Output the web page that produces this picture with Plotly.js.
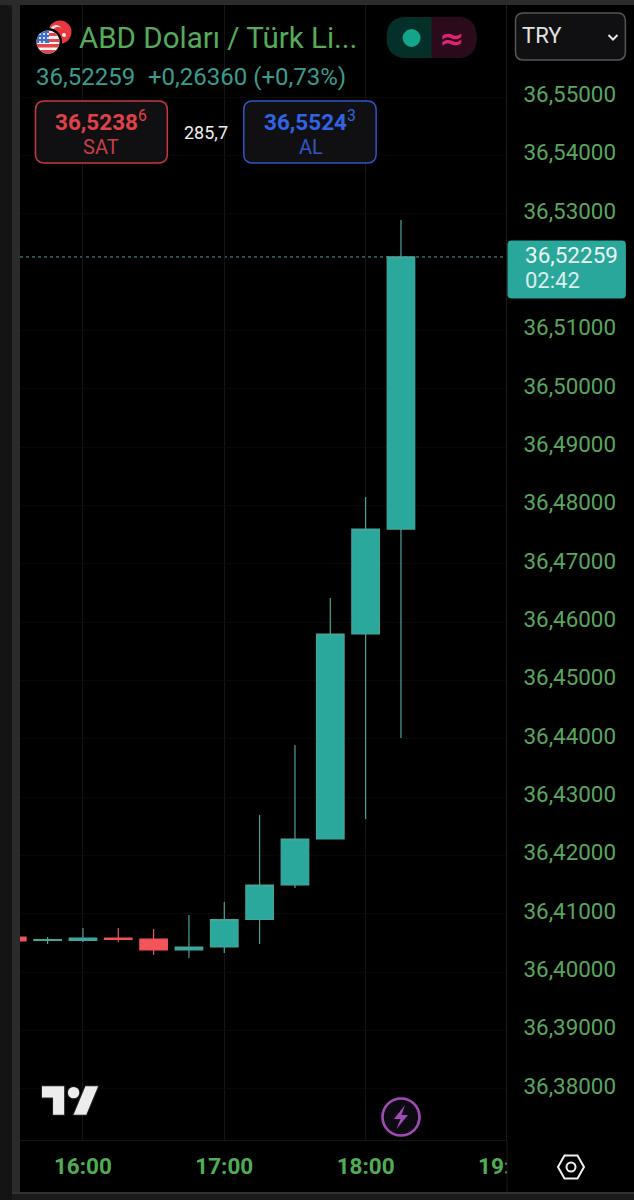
<!DOCTYPE html>
<html>
<head>
<meta charset="utf-8">
<script src="https://cdn.plot.ly/plotly-3.0.1.min.js"></script>
<style>
html,body{margin:0;padding:0;background:#1b1b1b;width:634px;height:1200px;overflow:hidden}
#topband{position:absolute;left:0;top:0;width:634px;height:5px;background:#2b2b2b}
#strip{position:absolute;left:12px;top:5px;width:8px;height:1187px;background:#2b2b2b}
#leftdark{position:absolute;left:0;top:5px;width:12px;height:1195px;background:#141414;border-top-right-radius:8px}
#panel{position:absolute;left:20px;top:5px;width:614px;height:1187px;background:#000;border-top-left-radius:10px}
#base{position:absolute;left:12px;top:1192px;width:622px;height:2px;background:#333}
#chart{position:absolute;left:0;top:0;width:634px;height:1200px}
#icons{position:absolute;left:0;top:0;pointer-events:none}
</style>
</head>
<body>
<div id="topband"></div><div id="strip"></div><div id="leftdark"></div><div id="panel"></div><div id="base"></div>
<div id="chart"></div>
<svg id="icons" width="634" height="1200" xmlns="http://www.w3.org/2000/svg">
  <defs>
    <clipPath id="us"><circle cx="48" cy="42" r="11.5"/></clipPath>
  </defs>
  <rect x="507" y="1141" width="12" height="50" fill="#000"/>
  <rect x="506.5" y="1141" width="1" height="51" fill="#1c1c1c"/>
  <circle cx="60" cy="32" r="11.5" fill="#e5393f"/>
  <circle cx="56" cy="31" r="6" fill="#fbe9e7"/>
  <circle cx="58" cy="32" r="5.2" fill="#e5393f"/>
  <circle cx="64" cy="35" r="2" fill="#fbe9e7"/>
  <circle cx="48" cy="42" r="14" fill="#000"/>
  <g clip-path="url(#us)">
    <rect x="36" y="30" width="24" height="24" fill="#f4f4f4"/>
    <rect x="36" y="44" width="24" height="3.5" fill="#e5454a"/>
    <rect x="36" y="50" width="24" height="5" fill="#e5454a"/>
    <rect x="48" y="33" width="12" height="3" fill="#e5454a"/>
    <rect x="48" y="39" width="12" height="3" fill="#e5454a"/>
    <rect x="36" y="30" width="13" height="13" fill="#3f6fc4"/>
    <g fill="#fff">
      <circle cx="40" cy="34" r="1"/><circle cx="44" cy="34" r="1"/><circle cx="48" cy="34" r="1"/>
      <circle cx="40" cy="38" r="1"/><circle cx="44" cy="38" r="1"/><circle cx="48" cy="38" r="1"/>
      <circle cx="40" cy="42" r="1"/><circle cx="44" cy="42" r="1"/>
    </g>
  </g>
  <path d="M608.5 35 L613 39.5 L617.5 35" fill="none" stroke="#e6e6e6" stroke-width="2"/>
  <g transform="translate(42,1080) scale(1.58)">
    <path d="M14 22H7V11H0V4h14v18zM28 22h-8l7.5-18h8L28 22z" fill="#ececec" stroke="#222" stroke-width="1.4" paint-order="stroke"/>
    <circle cx="20" cy="8" r="3.6" fill="#ececec" stroke="#222" stroke-width="1" paint-order="stroke"/>
  </g>
  <circle cx="401" cy="1117" r="18.5" fill="#0c0a10" stroke="#a24bb8" stroke-width="2.6"/>
  <path d="M405 1105 L394 1119 L400.5 1119 L396.5 1129 L408 1115 L401.5 1115 Z" fill="#a24bb8"/>
  <path d="M558 1167 L564.5 1155.5 L577.5 1155.5 L584 1167 L577.5 1178.5 L564.5 1178.5 Z" fill="none" stroke="#efefef" stroke-width="2"/>
  <circle cx="571" cy="1167" r="4.5" fill="none" stroke="#efefef" stroke-width="2"/>
</svg>
<script>
// ---- data ----
const times = ["2024-12-20 15:30","2024-12-20 15:45","2024-12-20 16:00","2024-12-20 16:15","2024-12-20 16:30","2024-12-20 16:45","2024-12-20 17:00","2024-12-20 17:15","2024-12-20 17:30","2024-12-20 17:45","2024-12-20 18:00","2024-12-20 18:15"];
const opens  = [36.40604,36.40544,36.40544,36.40587,36.40570,36.40381,36.40433,36.40904,36.41495,36.42284,36.45797,36.47596];
const highs  = [36.40640,36.40604,36.40758,36.40758,36.40741,36.40981,36.41204,36.42695,36.43895,36.46414,36.48145,36.52892];
const lows   = [36.40520,36.40484,36.40518,36.40518,36.40296,36.40244,36.40330,36.40484,36.41444,36.42284,36.42626,36.44015];
const closes = [36.40536,36.40560,36.40587,36.40561,36.40381,36.40433,36.40904,36.41495,36.42284,36.45797,36.47596,36.52259];
const priceTicks = [36.38,36.39,36.40,36.41,36.42,36.43,36.44,36.45,36.46,36.47,36.48,36.49,36.50,36.51,36.53,36.54,36.55];
const lastPrice = 36.52259;

const W=634,H=1200,L=20,R=127.5,T=5,B=60;
const px=x=>(x-L)/(W-L-R), py=y=>1-(y-T)/(H-T-B);
function rr(x0,y0,x1,y1,r){ // rounded rect in paper coordinates
  const X=px,Y=py;
  return `M ${X(x0+r)} ${Y(y0)} L ${X(x1-r)} ${Y(y0)} Q ${X(x1)} ${Y(y0)} ${X(x1)} ${Y(y0+r)} L ${X(x1)} ${Y(y1-r)} Q ${X(x1)} ${Y(y1)} ${X(x1-r)} ${Y(y1)} L ${X(x0+r)} ${Y(y1)} Q ${X(x0)} ${Y(y1)} ${X(x0)} ${Y(y1-r)} L ${X(x0)} ${Y(y0+r)} Q ${X(x0)} ${Y(y0)} ${X(x0+r)} ${Y(y0)} Z`;
}
function box(x0,y0,x1,y1,r,fill,line,w){
  return {type:'path',xref:'paper',yref:'paper',layer:'above',path:rr(x0,y0,x1,y1,r),fillcolor:fill,line:{color:line||fill,width:w||0}};
}
function rect(x0,y0,x1,y1,fill){return {type:'rect',xref:'paper',yref:'paper',layer:'above',x0:px(x0),x1:px(x1),y0:py(y0),y1:py(y1),fillcolor:fill,line:{width:0}};}
function txt(text,x,y,size,color,anchor,family){
  return {text,x:px(x),y:py(y),xref:'paper',yref:'paper',xanchor:anchor||'left',yanchor:'middle',showarrow:false,borderpad:0,
          font:{family:family||'Roboto',size,color}};
}
const shapes=[
  {type:'line',xref:'paper',yref:'y',x0:0,x1:1,y0:lastPrice,y1:lastPrice,layer:'below',line:{color:'#4f9aa0',width:1,dash:'dot'}},
  box(35.5,101,167.5,163,9,'#101012','#c53a41',1.5),
  box(244,101,376.5,163,9,'#101012','#2f55c9',1.5),
  box(387,17,477,58,20,'#05302a'),
  rect(432,17,457,58,'#2b0a1c'),
  box(440,17,477,58,20,'#2b0a1c'),
  {type:'circle',xref:'paper',yref:'paper',layer:'above',x0:px(403),x1:px(421),y0:py(47),y1:py(29),fillcolor:'#12a58a',line:{width:0}},
  box(516,13,626,60,8,'#101012','#565656',1.5),
  box(508,240.5,626.5,298.5,4,'#2aa79b')
];
const annotations=[
  txt('ABD Doları / Türk Li...',78,38,29.5,'#56ab5b'),
  txt('36,52259',35.5,77.5,24,'#3a9c8f'),
  txt('+0,26360 (+0,73%)',147,77.5,24,'#3a9c8f'),
  txt('<b>36,5238</b><sup>6</sup>',101.5,120,22.5,'#e0414a','center'),
  txt('SAT',101.5,147,20,'#c73f45','center'),
  txt('285,7',206,132,18,'#f0f0f0','center'),
  txt('<b>36,5524</b><sup>3</sup>',310,120,22.5,'#3064e4','center'),
  txt('AL',311,147,20,'#3057c4','center'),
  txt('<b>≈</b>',452,38,30,'#e0246f','center','DejaVu Sans'),
  txt('TRY',522,36,22,'#e2e2e2'),
  txt('36,52259',524.5,255,22.5,'#eaf6f4'),
  txt('02:42',525,280.5,22,'#d8efec'),
  txt('<b>19:</b>',477,1166,22.5,'#4fae55')
];
const trace={
  type:'candlestick',x:times,open:opens,high:highs,low:lows,close:closes,
  whiskerwidth:0,hoverinfo:'skip',
  increasing:{line:{color:'#46a59b',width:1.2},fillcolor:'#29a89b'},
  decreasing:{line:{color:'#ef5358',width:1.2},fillcolor:'#f4555a'}
};
const layout={
  width:W,height:H,margin:{l:L,r:R,t:T,b:B,pad:0},autosize:false,boxmode:'overlay',boxgap:0.22,boxgroupgap:0,
  paper_bgcolor:'rgba(0,0,0,0)',plot_bgcolor:'#000',separators:',.',showlegend:false,
  font:{family:'Roboto'},
  xaxis:{type:'date',range:['2024-12-20 15:33:17','2024-12-20 18:59:35'],rangeslider:{visible:false},
    tick0:'2024-12-20 16:00',dtick:3600000,tickformat:'%H:%M',
    tickfont:{family:'Roboto',size:22.5,color:'#4fae55',weight:700},
    ticks:'outside',ticklen:6,tickcolor:'rgba(0,0,0,0)',
    showgrid:true,gridcolor:'#141414',gridwidth:1,showline:true,linecolor:'#161616',linewidth:1,zeroline:false,fixedrange:true},
  yaxis:{side:'right',range:[36.37125,36.56577],tickmode:'array',tickvals:priceTicks,tickformat:'.5f',
    tickfont:{family:'Roboto',size:22.4,color:'#5aa65f'},
    ticks:'outside',ticklen:12,tickcolor:'rgba(0,0,0,0)',ticklabelshift:-3,
    showgrid:true,gridcolor:'#070707',gridwidth:1,showline:true,linecolor:'#1c1c1c',linewidth:1,zeroline:false,fixedrange:true},
  shapes,annotations
};
Plotly.newPlot('chart',[trace],layout,{displayModeBar:false,staticPlot:true});
</script>
</body>
</html>
